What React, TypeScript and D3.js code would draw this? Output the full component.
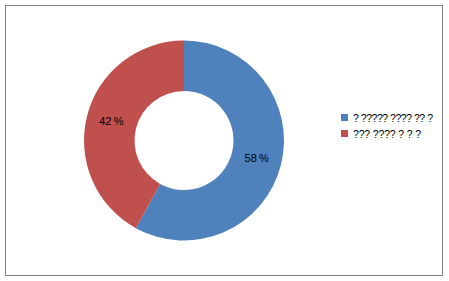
import React from "react";
import * as d3 from "d3";

const categories = ["? ????? ???? ?? ?", "??? ???? ? ? ?"];
const values = [58, 42];
const colors = ["#4F81BD", "#C0504D"];
const legendWidths = [80, 68];

export default function App() {
  const W = 449, H = 281;
  const cx = 184, cy = 140.5, rOuter = 100, rInner = 49.5;
  const pie = d3.pie<number>().sort(null).value((d) => d);
  const arcs = pie(values);
  const arc = d3.arc<d3.PieArcDatum<number>>().innerRadius(rInner).outerRadius(rOuter);
  const labelArc = d3.arc<d3.PieArcDatum<number>>().innerRadius(75).outerRadius(75);
  const total = d3.sum(values);
  const font = "'Liberation Sans', Arial, sans-serif";
  return (
    <svg width={W} height={H} style={{ position: "absolute", left: 0, top: 0 }} fontFamily={font}>
      <rect x={0} y={0} width={W} height={H} fill="#fff" />
      <rect x={5.5} y={5.5} width={437} height={270} fill="#fff" stroke="#808080" strokeWidth={1} />
      <g transform={`translate(${cx},${cy})`}>
        {arcs.map((a, i) => (
          <path key={i} d={arc(a) || ""} fill={colors[i]} />
        ))}
        {arcs.map((a, i) => {
          const [x, y] = labelArc.centroid(a);
          return (
            <text key={"t" + i} x={x} y={y} fontSize={11} textAnchor="middle" dominantBaseline="middle" fill="#000">
              {Math.round((a.value / total) * 100)}{"\u2009%"}
            </text>
          );
        })}
      </g>
      <g>
        {categories.map((c, i) => (
          <g key={c} transform={`translate(341,${114 + i * 16})`}>
            <rect x={0} y={0} width={7} height={7} fill={colors[i]} />
            <text x={12} y={8} fontSize={10.5} fill="#000" textLength={legendWidths[i]} lengthAdjust="spacing">{c}</text>
          </g>
        ))}
      </g>
    </svg>
  );
}
